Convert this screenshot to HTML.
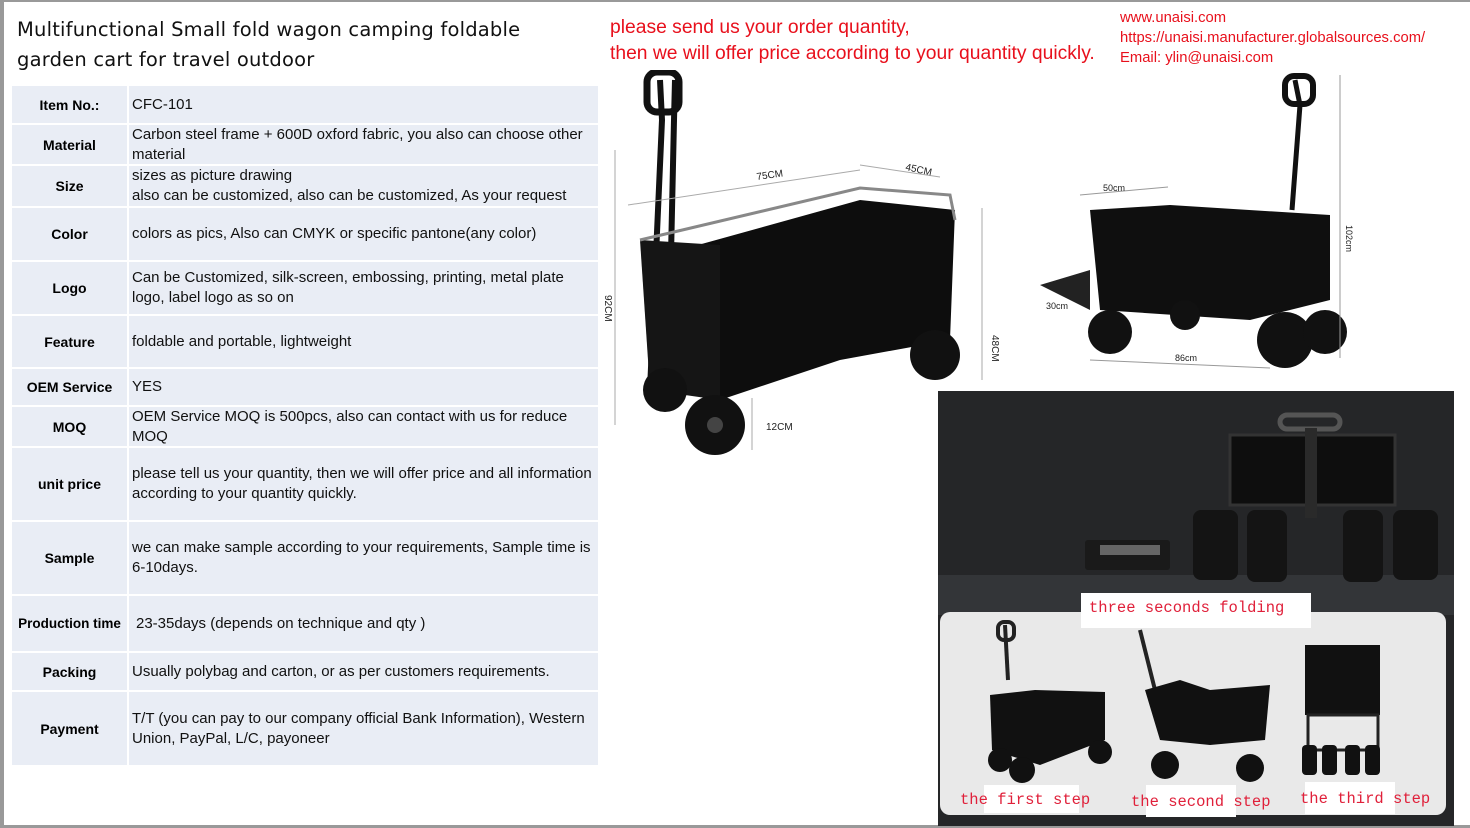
<!DOCTYPE html>
<html><head><meta charset="utf-8"><style>
*{margin:0;padding:0;box-sizing:border-box}
body{width:1470px;height:828px;position:relative;background:#fff;overflow:hidden;font-family:"Liberation Sans",sans-serif}
.a{position:absolute}
.t{font-family:"DejaVu Sans",sans-serif;font-size:19.5px;color:#111;letter-spacing:.2px}
.row{position:absolute;left:12px;width:586px;background:#e9edf5}
.lab{position:absolute;left:0;width:117px;top:0;bottom:0;display:flex;align-items:center;justify-content:center;font-weight:bold;font-size:14px;color:#000;border-right:2px solid #fff}
.val{position:absolute;left:120px;right:4px;top:0;bottom:0;display:flex;align-items:center;font-size:15px;color:#111;line-height:20px}
.red{color:#e8101c;font-size:19.3px;line-height:26px}
.url{color:#e8101c;font-size:14.8px;line-height:20px}
.step{position:absolute;background:#fff;color:#e0203a;font-family:"Liberation Mono",monospace;font-size:15.5px;padding:0 4px}
</style></head><body>
<div class="a" style="left:0;top:0;width:1470px;height:2px;background:#999"></div>
<div class="a" style="left:0;top:0;width:4px;height:828px;background:#999"></div>
<div class="a" style="left:0;top:825px;width:1470px;height:3px;background:#999"></div>
<div class="a t" style="left:17px;top:15px;line-height:30px">Multifunctional Small fold wagon camping foldable<br>garden cart for travel outdoor</div>
<div class="a red" style="left:610px;top:15px">please send us your order quantity,<br>then we will offer price according to your quantity quickly.</div>
<div class="a url" style="left:1120px;top:8px">www.unaisi.com<br>https://unaisi.manufacturer.globalsources.com/<br>Email: ylin@unaisi.com</div>

<div class="row" style="top:86px;height:37px"><div class="lab">Item No.:</div><div class="val">CFC-101</div></div>
<div class="row" style="top:125px;height:39px"><div class="lab">Material</div><div class="val">Carbon steel frame + 600D oxford fabric, you also can choose other material</div></div>
<div class="row" style="top:166px;height:40px"><div class="lab">Size</div><div class="val">sizes as picture drawing<br>also can be customized, also can be customized, As your request</div></div>
<div class="row" style="top:208px;height:52px"><div class="lab">Color</div><div class="val">colors as pics, Also can CMYK or specific pantone(any color)</div></div>
<div class="row" style="top:262px;height:52px"><div class="lab">Logo</div><div class="val">Can be Customized, silk-screen, embossing, printing, metal plate logo, label logo as so on</div></div>
<div class="row" style="top:316px;height:51px"><div class="lab">Feature</div><div class="val">foldable and portable, lightweight</div></div>
<div class="row" style="top:369px;height:36px"><div class="lab">OEM Service</div><div class="val">YES</div></div>
<div class="row" style="top:407px;height:39px"><div class="lab">MOQ</div><div class="val">OEM Service MOQ is 500pcs, also can contact with us for reduce MOQ</div></div>
<div class="row" style="top:448px;height:72px"><div class="lab">unit price</div><div class="val">please tell us your quantity, then we will offer price and all information according to your quantity quickly.</div></div>
<div class="row" style="top:522px;height:72px"><div class="lab">Sample</div><div class="val">we can make sample according to your requirements, Sample time is 6-10days.</div></div>
<div class="row" style="top:596px;height:55px"><div class="lab" style="font-size:13.5px;white-space:nowrap">Production time</div><div class="val" style="left:124px">23-35days (depends on technique and qty )</div></div>
<div class="row" style="top:653px;height:37px"><div class="lab">Packing</div><div class="val">Usually polybag and carton, or as per customers requirements.</div></div>
<div class="row" style="top:692px;height:73px"><div class="lab">Payment</div><div class="val">T/T (you can pay to our company official Bank Information), Western Union, PayPal, L/C, payoneer</div></div>

<svg class="a" style="left:600px;top:70px" width="400" height="390">
<g stroke="#111" fill="none" stroke-width="6">
<path d="M60 10 L62 50 L50 320"/><path d="M75 10 L74 50 L68 320"/>
</g>
<rect x="47" y="2" width="32" height="40" rx="10" fill="none" stroke="#111" stroke-width="7"/>
<path d="M80 180 L260 130 L355 140 L350 270 L240 290 L120 330 L80 320 Z" fill="#0d0d0d"/>
<path d="M40 170 L120 175 L120 330 L50 320 Z" fill="#151515"/>
<path d="M40 170 L260 118 L350 125 L355 150" fill="none" stroke="#888" stroke-width="3"/>
<circle cx="65" cy="320" r="22" fill="#111"/><circle cx="115" cy="355" r="30" fill="#111"/>
<circle cx="335" cy="285" r="25" fill="#111"/><circle cx="115" cy="355" r="8" fill="#444"/>
<g stroke="#aaa" stroke-width="1"><line x1="28" y1="135" x2="260" y2="100"/><line x1="260" y1="95" x2="340" y2="107"/><line x1="382" y1="138" x2="382" y2="310"/><line x1="15" y1="80" x2="15" y2="355"/><line x1="152" y1="328" x2="152" y2="380"/></g>
<text x="157" y="110" font-size="10" fill="#222" transform="rotate(-8 157 110)">75CM</text>
<text x="305" y="100" font-size="10" fill="#222" transform="rotate(12 305 100)">45CM</text>
<text x="392" y="265" font-size="10" fill="#222" transform="rotate(90 392 265)">48CM</text>
<text x="5" y="225" font-size="10" fill="#222" transform="rotate(90 5 225)">92CM</text>
<text x="166" y="360" font-size="10" fill="#222">12CM</text>
</svg>

<svg class="a" style="left:1030px;top:70px" width="340" height="320">
<path d="M265 10 L270 35 L262 140" stroke="#111" stroke-width="5" fill="none"/>
<rect x="255" y="6" width="28" height="28" rx="9" fill="none" stroke="#111" stroke-width="6"/>
<path d="M60 140 L140 135 L300 145 L300 230 L220 250 L70 240 Z" fill="#0f0f0f"/>
<path d="M10 215 L60 200 L60 240 Z" fill="#222"/>
<circle cx="80" cy="262" r="22" fill="#111"/><circle cx="255" cy="270" r="28" fill="#111"/><circle cx="295" cy="262" r="22" fill="#111"/><circle cx="155" cy="245" r="15" fill="#111"/>
<g stroke="#999" stroke-width="1"><line x1="50" y1="125" x2="138" y2="117"/><line x1="310" y1="5" x2="310" y2="288"/><line x1="60" y1="290" x2="240" y2="298"/></g>
<text x="73" y="121" font-size="9" fill="#222">50cm</text><text x="16" y="239" font-size="9" fill="#222">30cm</text>
<text x="145" y="291" font-size="9" fill="#222">86cm</text>
<text x="316" y="155" font-size="9" fill="#222" transform="rotate(90 316 155)">102cm</text>
</svg>

<div class="a" style="left:938px;top:391px;width:516px;height:435px;background:#252628"></div>
<div class="a" style="left:938px;top:575px;width:516px;height:40px;background:#333538"></div>
<div class="a" style="left:1085px;top:540px;width:85px;height:30px;background:#1a1a1a;border-radius:3px"></div>
<div class="a" style="left:1100px;top:545px;width:60px;height:10px;background:#666"></div>
<svg class="a" style="left:1185px;top:410px" width="270" height="175">
<rect x="45" y="25" width="165" height="70" fill="#0e0e0e" stroke="#333" stroke-width="3"/>
<rect x="95" y="5" width="60" height="14" rx="7" fill="none" stroke="#555" stroke-width="5"/>
<rect x="120" y="18" width="12" height="90" fill="#2a2a2a"/>
<rect x="8" y="100" width="45" height="70" rx="8" fill="#141414"/><rect x="62" y="100" width="40" height="72" rx="8" fill="#141414"/>
<rect x="158" y="100" width="40" height="72" rx="8" fill="#141414"/><rect x="208" y="100" width="45" height="70" rx="8" fill="#141414"/>
</svg>
<div class="a" style="left:940px;top:612px;width:506px;height:203px;background:#e9e9e9;border-radius:10px"></div>
<div class="step" style="left:1081px;top:593px;width:230px;height:35px;line-height:30px;padding-left:8px">three seconds folding</div>
<svg class="a" style="left:980px;top:620px" width="440" height="170">
<path d="M25 5 L28 60" stroke="#222" stroke-width="4"/><rect x="18" y="2" width="16" height="18" rx="6" fill="none" stroke="#222" stroke-width="4"/>
<path d="M10 75 L55 70 L125 72 L125 120 L60 145 L12 130 Z" fill="#111"/>
<circle cx="20" cy="140" r="12" fill="#111"/><circle cx="42" cy="150" r="13" fill="#111"/><circle cx="120" cy="132" r="12" fill="#111"/>
<path d="M160 10 L175 70" stroke="#222" stroke-width="4"/>
<path d="M165 70 L200 60 L230 70 L290 65 L285 120 L230 125 L180 120 Z" fill="#111"/>
<circle cx="185" cy="145" r="14" fill="#111"/><circle cx="270" cy="148" r="14" fill="#111"/>
<rect x="325" y="25" width="75" height="70" fill="#111"/><rect x="328" y="95" width="70" height="35" fill="none" stroke="#222" stroke-width="3"/>
<rect x="322" y="125" width="15" height="30" rx="4" fill="#111"/><rect x="342" y="125" width="15" height="30" rx="4" fill="#111"/><rect x="365" y="125" width="15" height="30" rx="4" fill="#111"/><rect x="385" y="125" width="15" height="30" rx="4" fill="#111"/>
</svg>
<div class="step" style="left:984px;top:785px;width:95px;height:28px;line-height:28px;padding:0"></div>
<div class="step" style="left:956px;top:788px;background:none;line-height:24px">the first step</div>
<div class="step" style="left:1146px;top:785px;width:90px;height:32px"></div>
<div class="step" style="left:1127px;top:790px;background:none;line-height:24px">the second step</div>
<div class="step" style="left:1305px;top:782px;width:90px;height:32px"></div>
<div class="step" style="left:1296px;top:787px;background:none;line-height:24px">the third step</div>
</body></html>
